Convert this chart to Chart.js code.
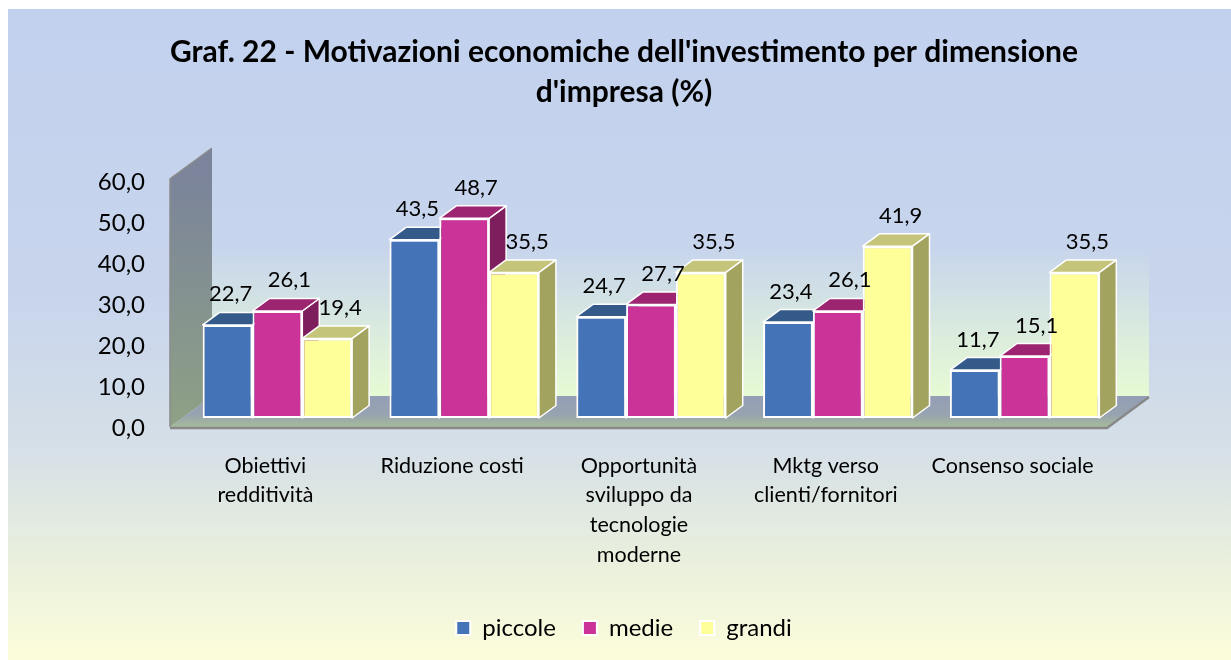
<!DOCTYPE html>
<html lang="it">
<head>
<meta charset="utf-8">
<title>Graf. 22</title>
<script src="https://cdn.jsdelivr.net/npm/chart.js@4"></script>
<style>
  html, body { margin: 0; padding: 0; background: #fff; }
  canvas { display: block; }
</style>
</head>
<body>
<canvas id="chart" width="1231" height="660"></canvas>
<script>
'use strict';

// ── Data ──────────────────────────────────────────────────────
const categories = [
  ['Obiettivi', 'redditività'],
  ['Riduzione costi'],
  ['Opportunità', 'sviluppo da', 'tecnologie', 'moderne'],
  ['Mktg verso', 'clienti/fornitori'],
  ['Consenso sociale'],
];
const seriesNames = ['piccole', 'medie', 'grandi'];
const piccole = [22.7, 43.5, 24.7, 23.4, 11.7];
const medie   = [26.1, 48.7, 27.7, 26.1, 15.1];
const grandi  = [19.4, 35.5, 35.5, 41.9, 35.5];
const yMin = 0, yMax = 60, yStep = 10;

// ── Colours (front, top, side) ────────────────────────────────
const FRONT = ['#4473B8', '#CC3399', '#FFFF99'];
const TOP   = ['#345A8A', '#9C2470', '#C4C47A'];
const SIDE  = ['#2E5080', '#7F1E5C', '#A3A360'];
const LABEL_DX = [3, 12, 13];

const FONT = 'Lato';
const DEPTH = { x: 17, y: -12.5 };   // bar depth
const FLOOR = { x: 42, y: -31 };     // floor / wall depth

const fmt = v => v.toFixed(1).replace('.', ',');

// ── Background, walls and floor ───────────────────────────────
const backdrop = {
  id: 'backdrop',
  beforeDraw(chart) {
    const { ctx, width, height } = chart;
    const g = ctx.createLinearGradient(0, 9, 0, height);
    g.addColorStop(0,    '#C2D1EE');
    g.addColorStop(0.45, '#C8D5EC');
    g.addColorStop(0.68, '#D6E0E7');
    g.addColorStop(0.85, '#EAF0DD');
    g.addColorStop(1,    '#FCFDDA');
    ctx.save();
    ctx.fillStyle = '#fff';
    ctx.fillRect(0, 0, width, height);
    ctx.fillStyle = g;
    ctx.fillRect(8, 9, width - 8, height - 9);
    ctx.restore();
  },
  beforeDatasetsDraw(chart) {
    const { ctx, chartArea: a } = chart;
    const fl = a.left - 14, fr = a.right - 11;
    const fb = a.bottom + 9, ft = a.top + 7;
    const bx = FLOOR.x, by = FLOOR.y;
    ctx.save();

    // back wall (greenish towards the floor)
    const gw = ctx.createLinearGradient(0, ft + by, 0, fb + by);
    gw.addColorStop(0,   'rgba(230,250,212,0)');
    gw.addColorStop(0.4, 'rgba(230,250,212,0)');
    gw.addColorStop(1,   'rgba(230,250,212,1)');
    ctx.fillStyle = gw;
    ctx.fillRect(fl + bx, ft + by, fr - fl, fb - ft);

    // left wall
    const gl = ctx.createLinearGradient(0, ft, 0, fb);
    gl.addColorStop(0, '#7B849A');
    gl.addColorStop(1, '#8FA185');
    ctx.fillStyle = gl;
    ctx.beginPath();
    ctx.moveTo(fl, fb);
    ctx.lineTo(fl, ft);
    ctx.lineTo(fl + bx, ft + by);
    ctx.lineTo(fl + bx, fb + by);
    ctx.closePath();
    ctx.fill();
    ctx.strokeStyle = '#8C8C8C';
    ctx.lineWidth = 1.5;
    ctx.beginPath();
    ctx.moveTo(fl, fb);
    ctx.lineTo(fl, ft);
    ctx.lineTo(fl + bx, ft + by);
    ctx.stroke();

    // floor
    const gf = ctx.createLinearGradient(0, fb + by, 0, fb);
    gf.addColorStop(0,   '#949EB5');
    gf.addColorStop(0.6, '#97A3B0');
    gf.addColorStop(1,   '#A6BB98');
    ctx.fillStyle = gf;
    ctx.beginPath();
    ctx.moveTo(fl, fb);
    ctx.lineTo(fr, fb);
    ctx.lineTo(fr + bx, fb + by);
    ctx.lineTo(fl + bx, fb + by);
    ctx.closePath();
    ctx.fill();
    ctx.strokeStyle = '#888';
    ctx.lineWidth = 2.5;
    ctx.beginPath();
    ctx.moveTo(fl, fb + 1);
    ctx.lineTo(fr, fb + 1);
    ctx.lineTo(fr + bx, fb + by + 1);
    ctx.stroke();

    // bar tops and sides, painted left to right, behind the front faces
    const metas = chart.data.datasets.map((d, i) => chart.getDatasetMeta(i));
    ctx.strokeStyle = '#fff';
    ctx.lineWidth = 1.5;
    ctx.lineJoin = 'round';
    for (let c = 0; c < categories.length; c++) {
      metas.forEach((meta, s) => {
        const { x, y, base, width } = meta.data[c].getProps(['x', 'y', 'base', 'width'], true);
        const x1 = x - width / 2, x2 = x + width / 2;
        const dx = DEPTH.x, dy = DEPTH.y;
        // side
        ctx.fillStyle = SIDE[s];
        ctx.beginPath();
        ctx.moveTo(x2, y);
        ctx.lineTo(x2 + dx, y + dy);
        ctx.lineTo(x2 + dx, base + dy);
        ctx.lineTo(x2, base);
        ctx.closePath();
        ctx.fill();
        ctx.stroke();
        // top
        ctx.fillStyle = TOP[s];
        ctx.beginPath();
        ctx.moveTo(x1, y);
        ctx.lineTo(x2, y);
        ctx.lineTo(x2 + dx, y + dy);
        ctx.lineTo(x1 + dx, y + dy);
        ctx.closePath();
        ctx.fill();
        ctx.stroke();
      });
    }
    ctx.restore();
  },
};

// ── Value labels ──────────────────────────────────────────────
const valueLabels = {
  id: 'valueLabels',
  afterDatasetsDraw(chart) {
    const { ctx } = chart;
    ctx.save();
    ctx.font = `22px ${FONT}`;
    ctx.fillStyle = '#000';
    ctx.textAlign = 'center';
    ctx.textBaseline = 'alphabetic';
    chart.data.datasets.forEach((ds, s) => {
      chart.getDatasetMeta(s).data.forEach((bar, i) => {
        const { x, y } = bar.getProps(['x', 'y'], true);
        ctx.fillText(fmt(ds.data[i]), x + LABEL_DX[s], y + DEPTH.y - 11);
      });
    });
    ctx.restore();
  },
};

// ── Chart ─────────────────────────────────────────────────────
const seriesValues = [piccole, medie, grandi];

new Chart(document.getElementById('chart'), {
  type: 'bar',
  data: {
    labels: categories,
    datasets: seriesValues.map((vals, i) => ({
      label: seriesNames[i],
      data: vals,
      backgroundColor: FRONT[i],
      borderColor: '#fff',
      borderWidth: 2,
      borderSkipped: false,
      categoryPercentage: 0.8,
      barPercentage: 1.0,
    })),
  },
  options: {
    responsive: false,
    animation: false,
    devicePixelRatio: 1,
    layout: { padding: { left: 17, right: 0, top: 0, bottom: 10 } },
    plugins: {
      tooltip: { enabled: false },
      title: {
        display: true,
        text: ["Graf. 22 - Motivazioni economiche dell'investimento per dimensione", "d'impresa (%)"],
        color: '#000',
        font: { family: FONT, size: 30, weight: 'bold', lineHeight: '40px' },
        padding: { top: 32, bottom: 60 },
      },
      legend: {
        position: 'bottom',
        labels: {
          color: '#000',
          boxWidth: 14,
          boxHeight: 14,
          padding: 27,
          font: { family: FONT, size: 24 },
        },
      },
    },
    scales: {
      x: {
        grid: { display: false, drawTicks: false },
        border: { display: false },
        ticks: {
          color: '#000',
          font: { family: FONT, size: 21.5, lineHeight: '29.6px' },
          padding: 33,
          labelOffset: -12,
          maxRotation: 0,
          autoSkip: false,
        },
        afterFit(scale) { scale.height = 171; },
      },
      y: {
        min: yMin,
        max: yMax,
        grid: { display: false, drawTicks: false },
        border: { display: false },
        ticks: {
          stepSize: yStep,
          color: '#000',
          font: { family: FONT, size: 24 },
          padding: 39,
          labelOffset: 10,
          callback: v => fmt(v),
        },
        afterFit(scale) { scale.width = 167; },
      },
      // empty right-hand band so the plot ends where the reference does
      spacer: {
        position: 'right',
        grid: { display: false, drawTicks: false },
        border: { display: false },
        ticks: { display: false },
        afterFit(scale) { scale.width = 113; },
      },
    },
  },
  plugins: [backdrop, valueLabels],
});
</script>
</body>
</html>
